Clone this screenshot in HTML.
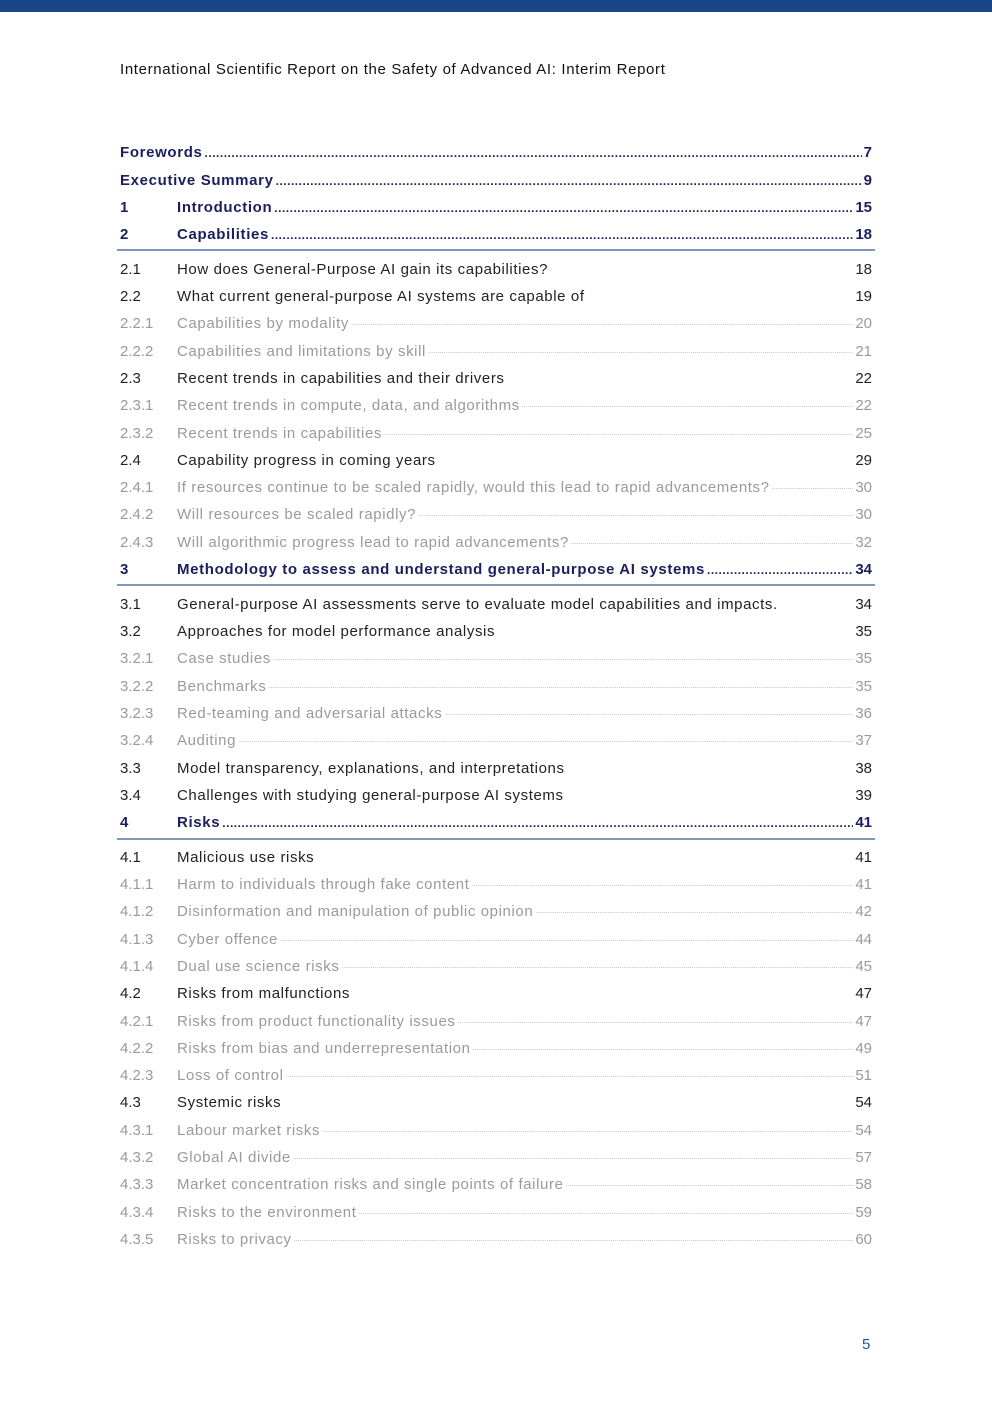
<!DOCTYPE html>
<html><head><meta charset="utf-8"><style>
body{margin:0;width:992px;height:1403px;position:relative;background:#fff;font-family:"Liberation Sans",sans-serif;overflow:hidden}
.bar{position:absolute;left:0;top:0;width:992px;height:12px;background:#1a4685}
.hdr{position:absolute;left:120px;top:61px;font-size:15px;color:#111;letter-spacing:0.65px}
.r{position:absolute;left:120px;width:752px;height:20px;line-height:20px;font-size:15px;display:flex;white-space:nowrap}
.n{width:57px;flex:none;letter-spacing:0}
.t{flex:none;letter-spacing:0.6px}
.l{flex:1;overflow:hidden;margin:0 2px}
.p{flex:none;text-align:right}
.b{color:#1b1f5e;font-weight:bold}
.b .t{letter-spacing:0.65px}
.b .l{font-size:12px;letter-spacing:0.5px}
.k{color:#222}
.k .l{visibility:hidden}
.k .p{width:40px}
.g{color:#9a9a9a}
.g .l{font-size:7px;color:#999;letter-spacing:0px}
.sep{position:absolute;left:117px;width:758px;height:2px;background:#7e98bb}
.pn{position:absolute;left:862px;top:1336px;font-size:15px;color:#2a4f93}
</style></head><body>
<div class="bar"></div>
<div class="hdr">International Scientific Report on the Safety of Advanced AI: Interim Report</div>
<div id="toc"></div>
<div class="sep" style="top:249px"></div>
<div class="sep" style="top:584px"></div>
<div class="sep" style="top:838px"></div>
<div class="pn">5</div>
<script>
var D=".".repeat(400);
var rows=[
[151,"b","","Forewords","7"],
[179,"b","","Executive Summary","9"],
[206,"b","1","Introduction","15"],
[233,"b","2","Capabilities","18"],
[268,"k","2.1","How does General-Purpose AI gain its capabilities?","18"],
[295,"k","2.2","What current general-purpose AI systems are capable of","19"],
[322,"g","2.2.1","Capabilities by modality","20"],
[350,"g","2.2.2","Capabilities and limitations by skill","21"],
[377,"k","2.3","Recent trends in capabilities and their drivers","22"],
[404,"g","2.3.1","Recent trends in compute, data, and algorithms","22"],
[432,"g","2.3.2","Recent trends in capabilities","25"],
[459,"k","2.4","Capability progress in coming years","29"],
[486,"g","2.4.1","If resources continue to be scaled rapidly, would this lead to rapid advancements?","30"],
[513,"g","2.4.2","Will resources be scaled rapidly?","30"],
[541,"g","2.4.3","Will algorithmic progress lead to rapid advancements?","32"],
[568,"b","3","Methodology to assess and understand general-purpose AI systems","34"],
[603,"k","3.1","General-purpose AI assessments serve to evaluate model capabilities and impacts.","34"],
[630,"k","3.2","Approaches for model performance analysis","35"],
[657,"g","3.2.1","Case studies","35"],
[685,"g","3.2.2","Benchmarks","35"],
[712,"g","3.2.3","Red-teaming and adversarial attacks","36"],
[739,"g","3.2.4","Auditing","37"],
[767,"k","3.3","Model transparency, explanations, and interpretations","38"],
[794,"k","3.4","Challenges with studying general-purpose AI systems","39"],
[821,"b","4","Risks","41"],
[856,"k","4.1","Malicious use risks","41"],
[883,"g","4.1.1","Harm to individuals through fake content","41"],
[910,"g","4.1.2","Disinformation and manipulation of public opinion","42"],
[938,"g","4.1.3","Cyber offence","44"],
[965,"g","4.1.4","Dual use science risks","45"],
[992,"k","4.2","Risks from malfunctions","47"],
[1020,"g","4.2.1","Risks from product functionality issues","47"],
[1047,"g","4.2.2","Risks from bias and underrepresentation","49"],
[1074,"g","4.2.3","Loss of control","51"],
[1101,"k","4.3","Systemic risks","54"],
[1129,"g","4.3.1","Labour market risks","54"],
[1156,"g","4.3.2","Global AI divide","57"],
[1183,"g","4.3.3","Market concentration risks and single points of failure","58"],
[1211,"g","4.3.4","Risks to the environment","59"],
[1238,"g","4.3.5","Risks to privacy","60"]];
var h="";
rows.forEach(function(r){
 var num=r[2]?'<span class="n">'+r[2]+'</span>':'';
 h+='<div class="r '+r[1]+'" style="top:'+(r[0]-8)+'px">'+num+'<span class="t">'+r[3]+'</span><span class="l">'+D+'</span><span class="p">'+r[4]+'</span></div>';
});
document.getElementById("toc").innerHTML=h;
</script>
</body></html>
